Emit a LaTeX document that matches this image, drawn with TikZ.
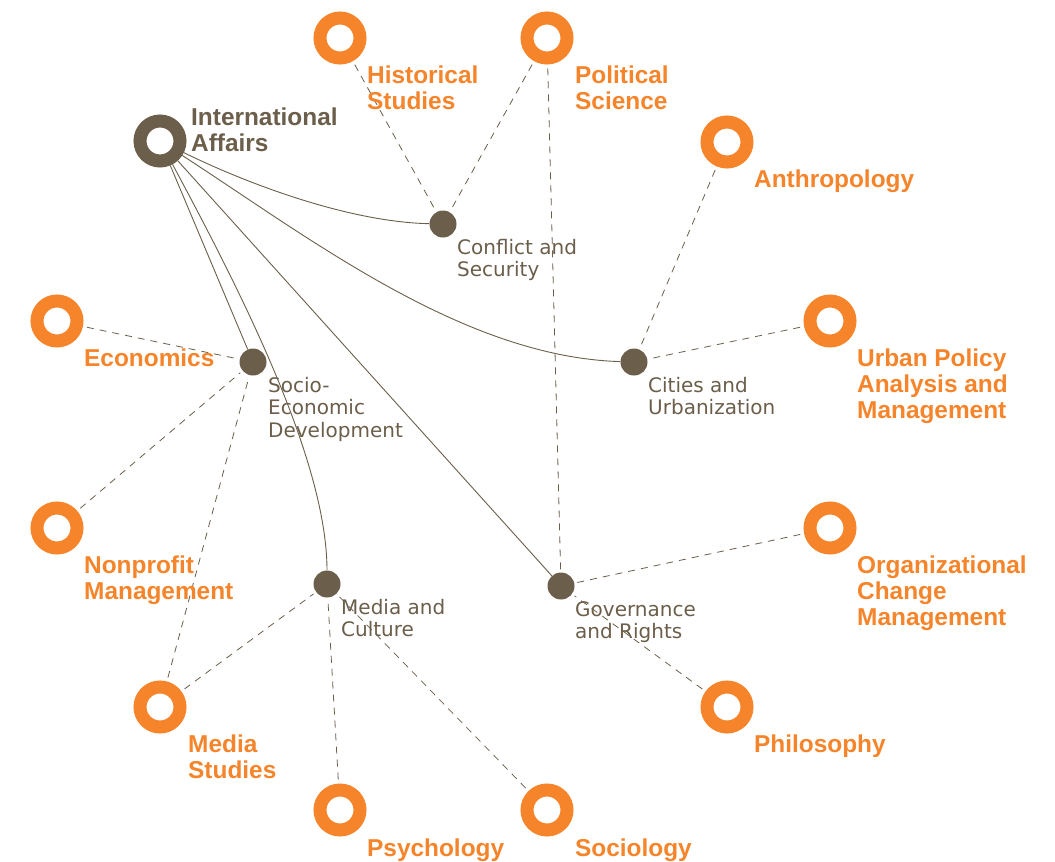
\documentclass[tikz,border=0pt]{standalone}
\usepackage{fontspec}
\newfontfamily\labfont{Liberation Sans}
\newfontfamily\hubfont{DejaVu Sans}
\definecolor{orng}{HTML}{F5842A}
\definecolor{brn}{HTML}{6B5E4A}
\newcommand{\mlines}[1]{\begin{tabular}[t]{@{}l@{}}#1\end{tabular}}
\begin{document}
\begin{tikzpicture}[x=1pt,y=-1pt,
 ring/.style={circle, draw=orng, line width=13pt, minimum size=40pt, inner sep=0pt},
 iaring/.style={ring, draw=brn},
 hub/.style={circle, fill=brn, minimum size=27pt, inner sep=0pt},
 olab/.style={anchor=base west, inner sep=0pt, text=orng, font=\labfont\bfseries\fontsize{24.4}{26.3}\selectfont},
 ialab/.style={olab, text=brn},
 hlab/.style={anchor=base west, inner sep=0pt, text=brn, font=\hubfont\fontsize{20}{22.8}\selectfont},
 link/.style={draw=brn, line width=0.9pt},
 dlink/.style={draw=brn, line width=0.8pt, dash pattern=on 7pt off 6pt, shorten <=4pt, shorten >=3pt}
]
\useasboundingbox (0,0) rectangle (1055,862);

% rings
\node[iaring] (ia) at (160,141) {};
\node[ring] (hist) at (340,38) {};
\node[ring] (pol) at (547,38) {};
\node[ring] (anth) at (727,142) {};
\node[ring] (urb) at (830,321) {};
\node[ring] (org) at (830,528) {};
\node[ring] (phil) at (727,707) {};
\node[ring] (soc) at (547,810) {};
\node[ring] (psy) at (340,810) {};
\node[ring] (mst) at (160,707) {};
\node[ring] (npm) at (57,528) {};
\node[ring] (eco) at (57,321) {};

% hubs
\node[hub] (hcs) at (443,224) {};
\node[hub] (hcu) at (634,362) {};
\node[hub] (hsed) at (253,362) {};
\node[hub] (hmc) at (327,584) {};
\node[hub] (hgr) at (561,586) {};

% solid links
\draw[link] (ia) .. controls (250,185) and (350,222) .. (hcs);
\draw[link] (ia) .. controls (311,239) and (464,357) .. (hcu);
\draw[link] (ia) -- (hsed);
\draw[link] (ia) .. controls (240,290) and (327,460) .. (hmc);
\draw[link] (ia) -- (hgr);

% dashed links
\draw[dlink] (hist) -- (hcs);
\draw[dlink] (pol) -- (hcs);
\draw[dlink] (pol) -- (hgr);
\draw[dlink] (anth) -- (hcu);
\draw[dlink] (urb) -- (hcu);
\draw[dlink] (eco) -- (hsed);
\draw[dlink] (npm) -- (hsed);
\draw[dlink] (mst) -- (hsed);
\draw[dlink] (mst) -- (hmc);
\draw[dlink] (psy) -- (hmc);
\draw[dlink] (soc) -- (hmc);
\draw[dlink] (org) -- (hgr);
\draw[dlink] (phil) -- (hgr);

% labels
\node[ialab] (tia) at (191,125) {\mlines{International\\Affairs}};
\node[olab] (thist) at (367,83) {\mlines{Historical\\Studies}};
\node[olab] (tpol) at (575,83) {\mlines{Political\\Science}};
\node[olab] (tanth) at (754,187) {Anthropology};
\node[olab] (turb) at (857,366) {\mlines{Urban Policy\\Analysis and\\Management}};
\node[olab] (torg) at (857,573) {\mlines{Organizational\\Change\\Management}};
\node[olab] (tphil) at (754,752) {Philosophy};
\node[olab] (tsoc) at (575,856) {Sociology};
\node[olab] (tpsy) at (367,856) {Psychology};
\node[olab] (tmst) at (188,752) {\mlines{Media\\Studies}};
\node[olab] (tnpm) at (84,573) {\mlines{Nonprofit\\Management}};
\node[olab] (teco) at (84,366) {Economics};

\node[hlab] (thcs) at (457,254) {\mlines{Conflict and\\Security}};
\node[hlab] (thcu) at (648,392) {\mlines{Cities and\\Urbanization}};
\node[hlab] (thsed) at (268,392) {\mlines{Socio-\\Economic\\Development}};
\node[hlab] (thmc) at (341,614) {\mlines{Media and\\Culture}};
\node[hlab] (thgr) at (575,616) {\mlines{Governance\\and Rights}};
\end{tikzpicture}
\end{document}
